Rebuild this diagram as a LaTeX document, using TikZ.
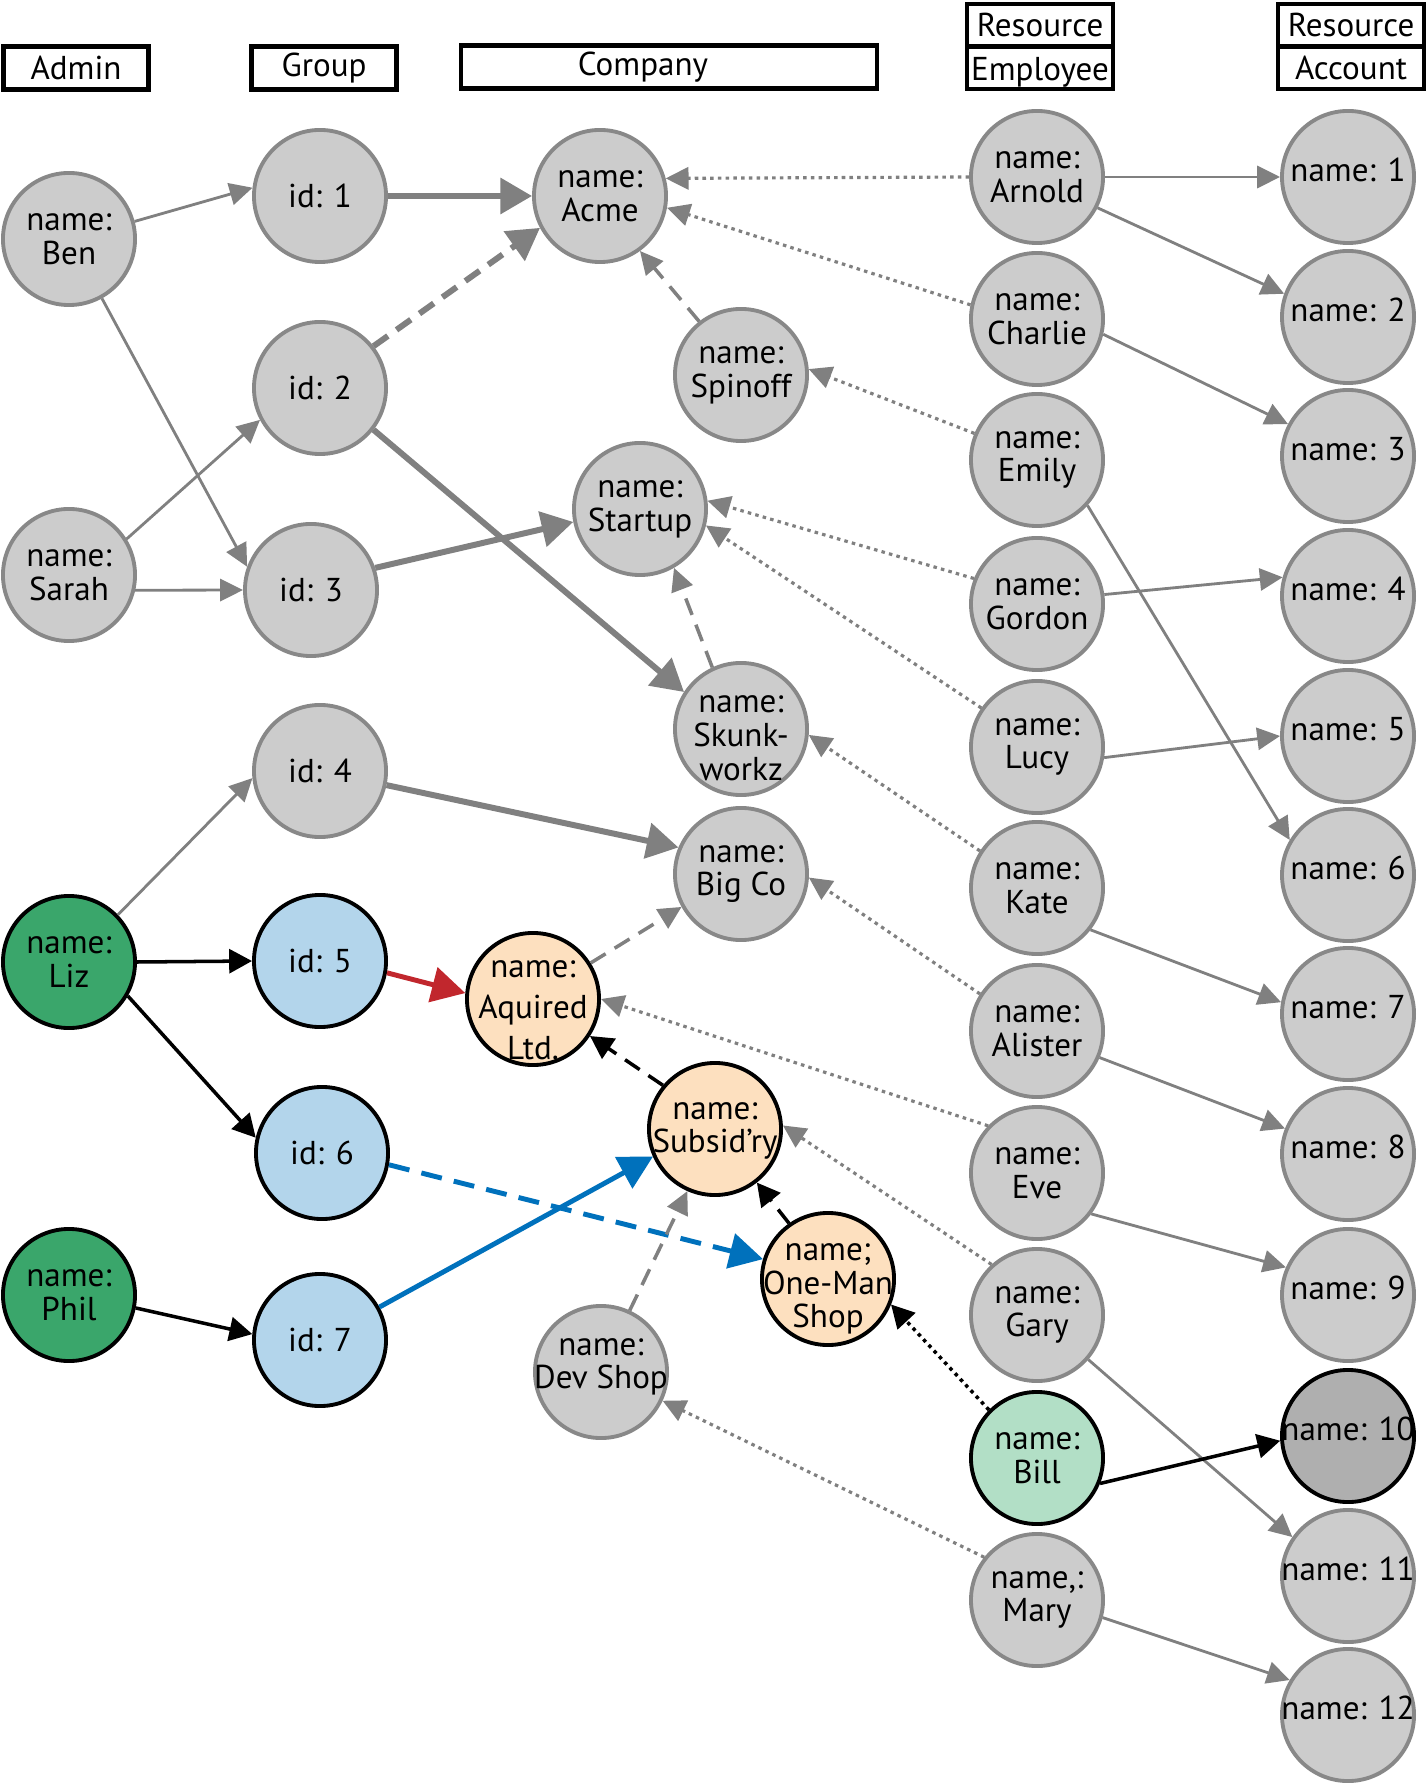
\documentclass[tikz,border=0pt]{standalone}
\usepackage{fontspec}
\setmainfont{PT Sans}
\usetikzlibrary{arrows.meta}
\definecolor{nodegray}{HTML}{CCCCCC}
\definecolor{rimgray}{HTML}{888888}
\definecolor{edgegray}{HTML}{808080}
\definecolor{accdark}{HTML}{AFAFAF}
\definecolor{admgreen}{HTML}{3AA66B}
\definecolor{grpblue}{HTML}{B3D5EB}
\definecolor{copeach}{HTML}{FDE0BF}
\definecolor{empmint}{HTML}{B2DFC6}
\definecolor{linkred}{HTML}{C1272D}
\definecolor{linkblue}{HTML}{0071BC}
% text that may run over the rim without growing the circle
\newcommand{\widetext}[2][0pt]{\raisebox{\dimexpr#1-2.35pt\relax}[0pt][0pt]{\makebox[0pt]{\begin{tabular}{@{}c@{}}#2\end{tabular}}}}

\begin{document}
\begin{tikzpicture}[x=0.01cm, y=-0.01cm, font=\fontsize{9.4}{9.6}\selectfont,
  main node/.style={circle, draw=rimgray, fill=nodegray, line width=1.1pt, minimum size=1.32cm, inner sep=0pt, align=center},
  dark node/.style={main node, draw=black},
  acct node/.style={main node, text height=6.8pt, text depth=4pt},
  hdr node/.style={draw, line width=1.2pt, minimum height=0.43cm, minimum width=1.45cm, inner sep=0pt},
  gline/.style={draw=edgegray, line width=0.8pt, -{Triangle[length=6.5pt,width=6.3pt]}},
  gthick/.style={draw=edgegray, line width=1.7pt, -{Triangle[length=9pt,width=10pt]}},
  gdash/.style={gline, line width=1pt, dash pattern=on 5pt off 3pt},
  gdot/.style={gline, line width=0.9pt, dash pattern=on 1pt off 1.2pt},
  bline/.style={draw=black, line width=1pt, -{Triangle[length=6.5pt,width=6.8pt]}},
  cline/.style={line width=1.4pt, -{Triangle[length=9.5pt,width=10pt]}}]
  \useasboundingbox (0,0) rectangle (1427,1786);

  % headers
  \node[hdr node] (admin) at (76,68) {Admin};
  \node[hdr node] (group) at (324,68) {Group};
  \node[hdr node, minimum width=4.16cm] (company) at (669,67) {\hspace*{-0.52cm}Company};
  \node[hdr node, minimum height=0.42cm, minimum width=1.46cm] (res1) at (1040,25) {Resource};
  \node[hdr node, minimum height=0.42cm, minimum width=1.46cm, text height=9pt] (employee) at (1040,68) {Employee};
  \node[hdr node, minimum height=0.42cm, minimum width=1.46cm] (res2) at (1351,25) {Resource};
  \node[hdr node, minimum height=0.42cm, minimum width=1.46cm] (account) at (1351,68) {Account};

  % admins
  \node[main node] (ben) at (69,239) {name:\\Ben};
  \node[main node] (sarah) at (69,575) {name:\\Sarah};
  \node[dark node, fill=admgreen] (liz) at (69,962) {name:\\Liz};
  \node[dark node, fill=admgreen] (phil) at (69,1295) {name:\\Phil};

  % groups
  \node[main node] (id1) at (320,196) {id: 1};
  \node[main node] (id2) at (320,388) {id: 2};
  \node[main node] (id3) at (311,590) {id: 3};
  \node[main node] (id4) at (320,771) {id: 4};
  \node[dark node, fill=grpblue] (id5) at (320,961) {id: 5};
  \node[dark node, fill=grpblue] (id6) at (322,1153) {id: 6};
  \node[dark node, fill=grpblue] (id7) at (320,1340) {id: 7};

  % companies
  \node[main node] (acme) at (600,196) {name:\\Acme};
  \node[main node] (spinoff) at (741,375) {name:\\Spinoff};
  \node[main node] (startup) at (640,509) {name:\\Startup};
  \node[main node] (skunk) at (741,729) {\widetext[-2.9pt]{name:\\Skunk-\\workz}};
  \node[main node] (bigco) at (741,874) {name:\\Big Co};
  \node[dark node, fill=copeach] (aquired) at (533,999) {\widetext[-3.5pt]{name:\\[2pt]Aquired\\[2pt]Ltd.}};
  \node[dark node, fill=copeach] (subsid) at (715,1129) {\widetext{name:\\Subsid’ry}};
  \node[dark node, fill=copeach] (oneman) at (828,1279) {\widetext[-2.3pt]{name;\\One-Man\\Shop}};
  \node[main node] (devshop) at (601,1372) {\widetext[2pt]{name:\\Dev Shop}};

  % employees
  \node[main node] (arnold) at (1037,177) {name:\\Arnold};
  \node[main node] (charlie) at (1037,319) {name:\\Charlie};
  \node[main node] (emily) at (1037,460) {name:\\Emily};
  \node[main node] (gordon) at (1037,604) {name:\\Gordon};
  \node[main node] (lucy) at (1037,747) {name:\\Lucy};
  \node[main node] (kate) at (1037,888) {name:\\Kate};
  \node[main node] (alister) at (1037,1031) {name:\\Alister};
  \node[main node] (eve) at (1037,1173) {name:\\Eve};
  \node[main node] (gary) at (1037,1315) {name:\\Gary};
  \node[dark node, fill=empmint] (bill) at (1037,1458) {name:\\Bill};
  \node[main node] (mary) at (1037,1600) {name,:\\Mary};

  % accounts
  \node[acct node] (acc1) at (1348,177) {name: 1};
  \node[acct node] (acc2) at (1348,317) {name: 2};
  \node[acct node] (acc3) at (1348,456) {name: 3};
  \node[acct node] (acc4) at (1348,596) {name: 4};
  \node[acct node] (acc5) at (1348,736) {name: 5};
  \node[acct node] (acc6) at (1348,875) {name: 6};
  \node[acct node] (acc7) at (1348,1014) {name: 7};
  \node[acct node] (acc8) at (1348,1154) {name: 8};
  \node[acct node] (acc9) at (1348,1295) {name: 9};
  \node[acct node, draw=black, fill=accdark] (acc10) at (1348,1436) {\makebox[0pt]{name: 10}};
  \node[acct node] (acc11) at (1348,1576) {\makebox[0pt]{name: 11}};
  \node[acct node] (acc12) at (1348,1715) {\makebox[0pt]{name: 12}};

  % admin -> group
  \draw[gline] (ben.15) -- (id1.173);
  \draw[gline] (ben.-61) -- (id3.160);
  \draw[gline] (sarah.32) -- (id2.208);
  \draw[gline] (sarah.-13) -- (id3.west);
  \draw[gline] (liz.44) -- (id4.186);
  \draw[bline] (liz.east) -- (id5.west);
  \draw[bline] (liz.-30) -- (id6.167);
  \draw[bline] (phil.-11) -- (id7.175);

  % group -> company
  \draw[gthick] (id1.east) -- (acme.west);
  \draw[gthick, dash pattern=on 5pt off 3pt] (id2.38) -- (acme.208);
  \draw[gthick] (id2.-38) -- (skunk.147);
  \draw[gthick] (id3.19) -- (startup.191);
  \draw[gthick] (id4.-12) -- (bigco.157);
  \draw[cline, draw=linkred] (id5.-10) -- (aquired.175);
  \draw[cline, draw=linkblue, dash pattern=on 6pt off 3.5pt] (id6.-10) -- (oneman.163);
  \draw[cline, draw=linkblue] (id7.29) -- (subsid.204);

  % company -> parent
  \draw[gdash] (spinoff.128) -- (acme.-54);
  \draw[gdash] (skunk.115) -- (startup.-60);
  \draw[gdash] (aquired.32) -- (bigco.209);
  \draw[gdash] (devshop.65) -- (subsid.246);
  \draw[bline, dash pattern=on 5pt off 3pt] (subsid.140) -- (aquired.-33);
  \draw[bline, dash pattern=on 5pt off 3pt] (oneman.125) -- (subsid.-52);

  % employee -> company
  \draw[gdot] (arnold.west) -- (acme.15);
  \draw[gdot] (charlie.168) -- (acme.-10);
  \draw[gdot] (emily.157) -- (spinoff.5);
  \draw[gdot] (gordon.158) -- (startup.7);
  \draw[gdot] (lucy.145) -- (startup.-14);
  \draw[gdot] (kate.147) -- (skunk.-5);
  \draw[gdot] (alister.147) -- (bigco.-3);
  \draw[gdot] (eve.136) -- (aquired.0);
  \draw[gdot] (gary.132) -- (subsid.3);
  \draw[gdot] (mary.141) -- (devshop.-25);
  \draw[bline, dash pattern=on 1pt off 1.2pt] (bill.135) -- (oneman.-22);

  % employee -> account
  \draw[gline] (arnold.east) -- (acc1.west);
  \draw[gline] (arnold.-27) -- (acc2.160);
  \draw[gline] (charlie.-13) -- (acc3.152);
  \draw[gline] (emily.-42) -- (acc6.149);
  \draw[gline] (gordon.8) -- (acc4.164);
  \draw[gline] (lucy.-9) -- (acc5.west);
  \draw[gline] (kate.-38) -- (acc7.170);
  \draw[gline] (alister.-23) -- (acc8.158);
  \draw[gline] (eve.-37) -- (acc9.156);
  \draw[gline] (gary.-41) -- (acc11.145);
  \draw[bline] (bill.-22) -- (acc10.184);
  \draw[gline] (mary.-15) -- (acc12.149);
\end{tikzpicture}
\end{document}
